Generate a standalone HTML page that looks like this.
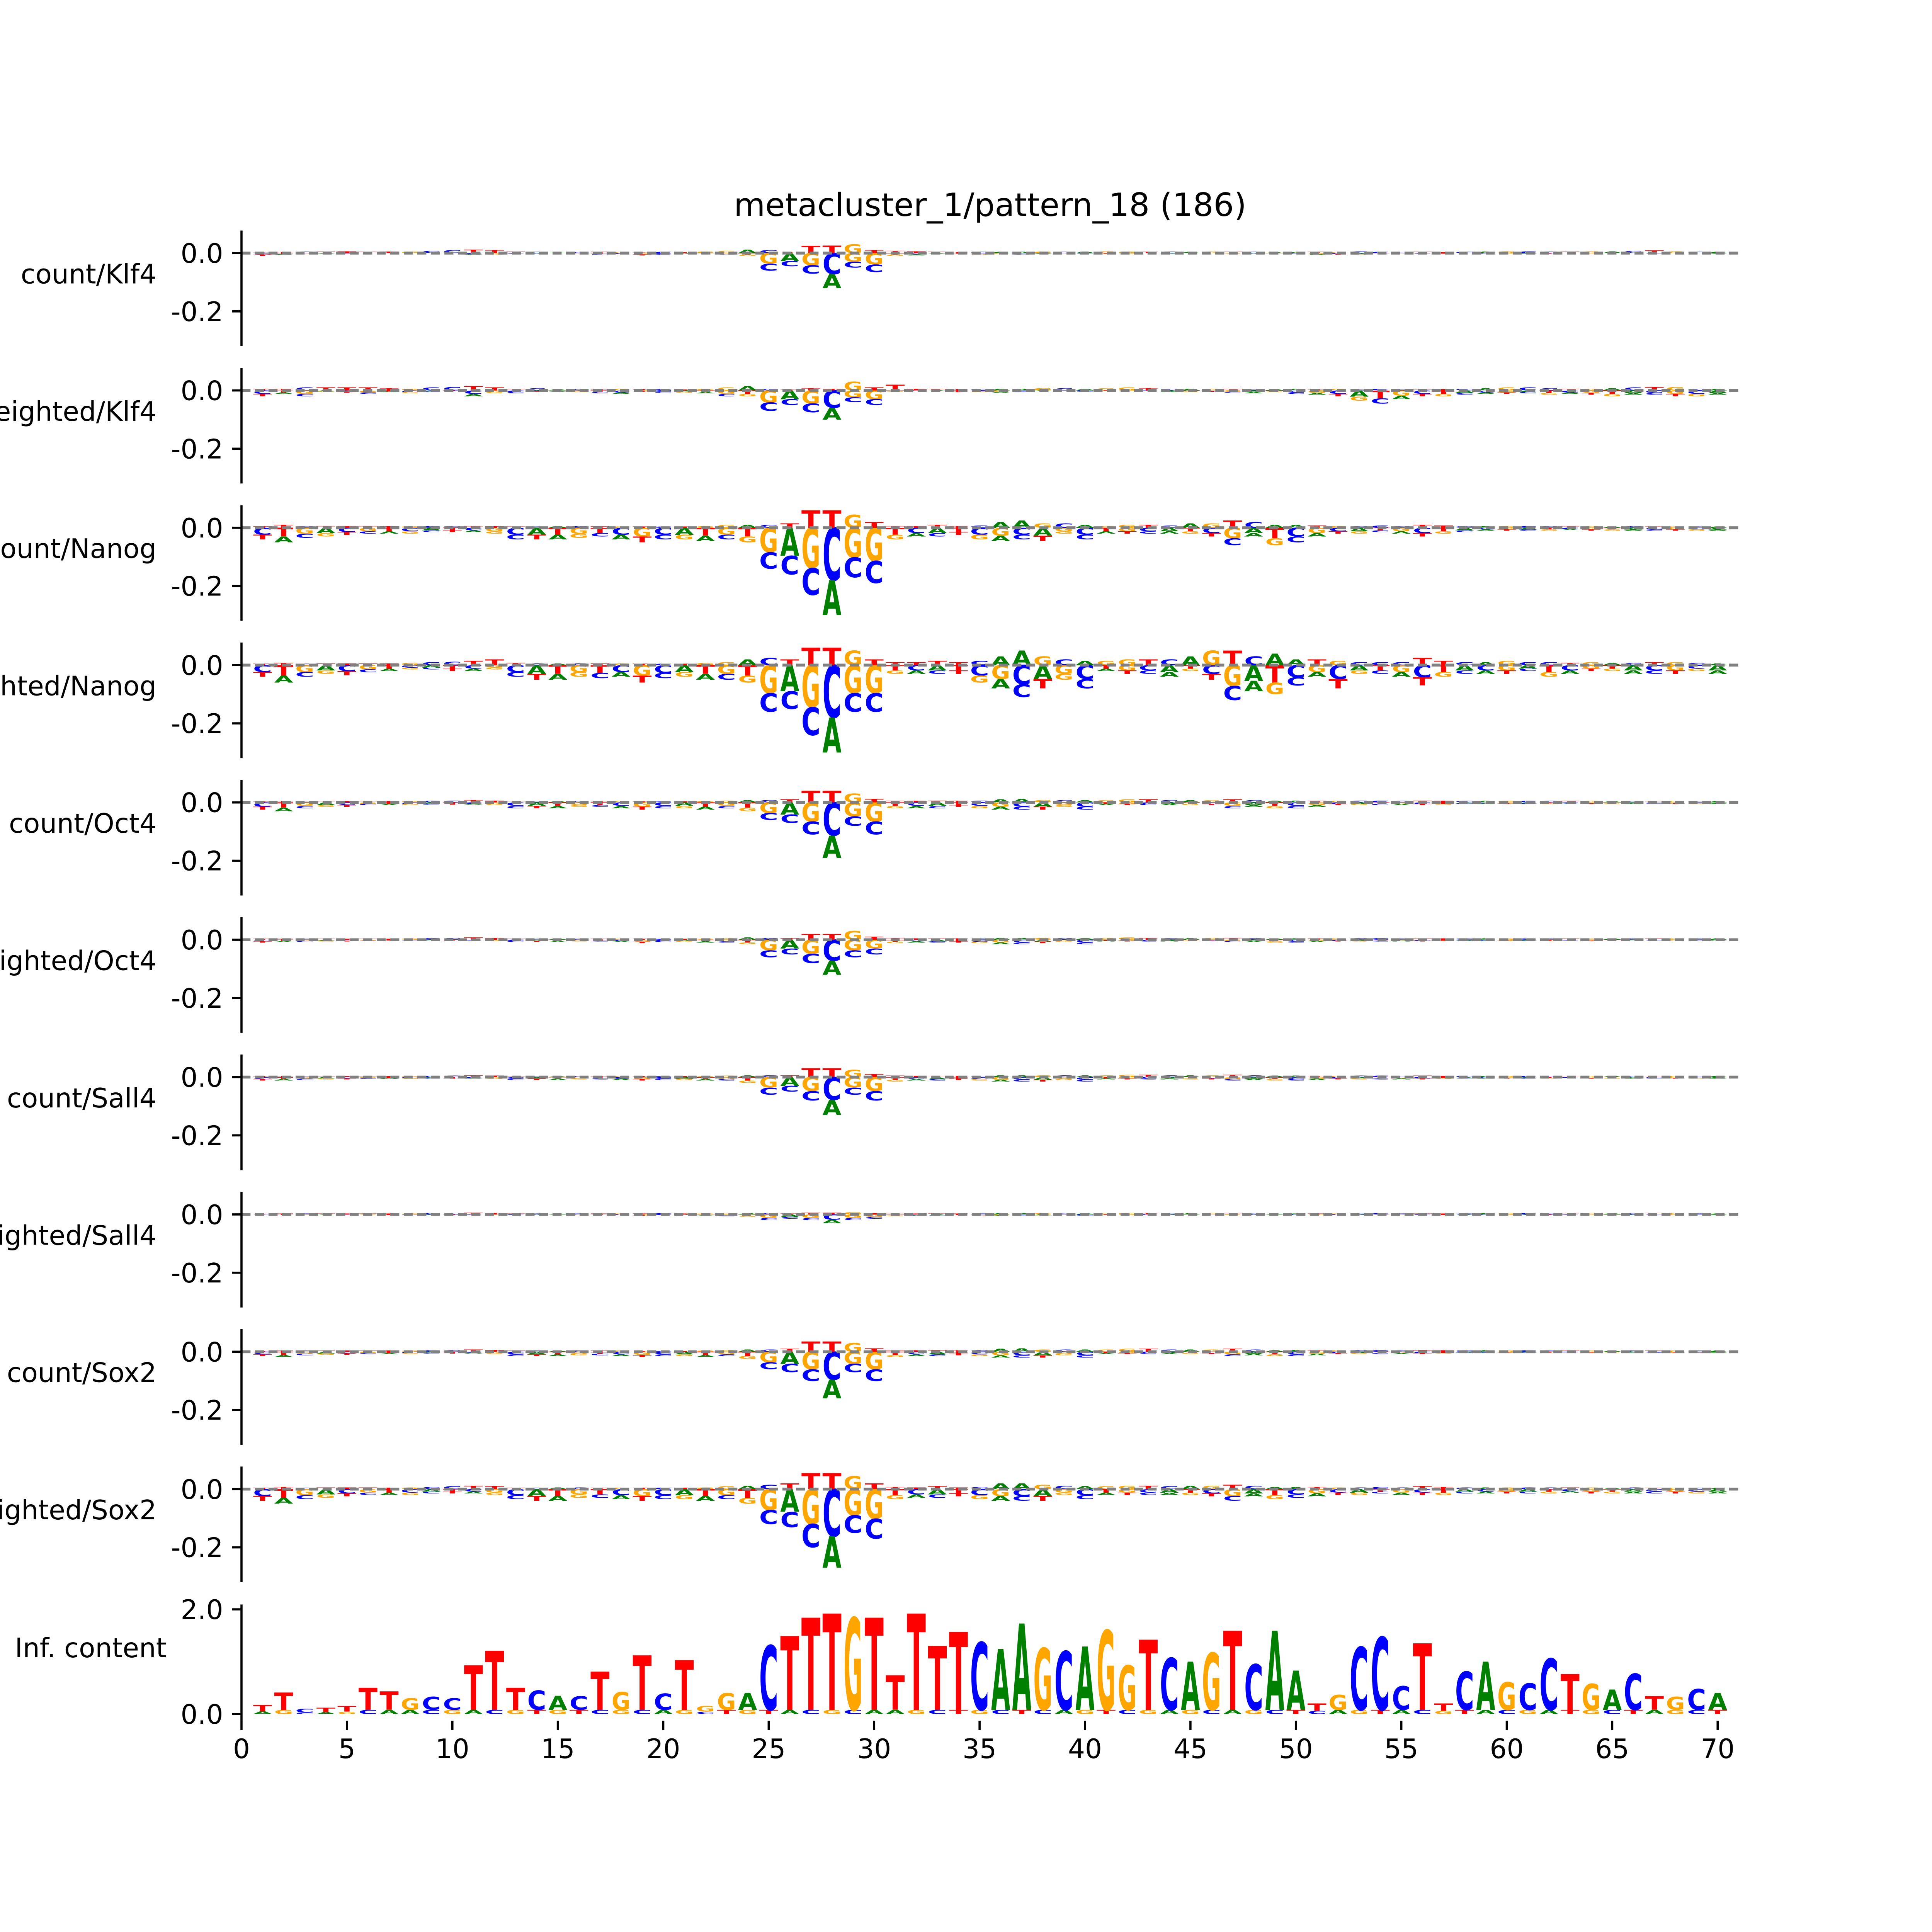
<!DOCTYPE html>
<html><head><meta charset="utf-8">
<style>
html,body{margin:0;padding:0;background:#fff;overflow:hidden;width:100%;height:100%;}
svg{display:block;width:100vw;height:100vh;}
text{font-family:"DejaVu Sans","Liberation Sans",sans-serif;}
</style></head>
<body>
<svg id="fig" xmlns="http://www.w3.org/2000/svg" viewBox="0 0 6000 6000" preserveAspectRatio="none">
<rect x="0" y="0" width="6000" height="6000" fill="#ffffff"/>
<text x="3075" y="671" font-size="100" text-anchor="middle" fill="#000">metacluster_1/pattern_18 (186)</text>
<g id="panels"></g>
</svg>
<script>
const panelNames=["count/Klf4","weighted/Klf4","count/Nanog","weighted/Nanog","count/Oct4","weighted/Oct4","count/Sall4","weighted/Sall4","count/Sox2","weighted/Sox2"];
const negTop="CTGACGTCATCGCATGTCGCATGT"+"GAGCGG"+"TCATCGCAGCTGCATCGATCGCATGCTACGATCGTACGCA";
const negBot="TACGTCAGCTAGCTAGCATCGACG"+"CCCACC"+"GACTGACTGCATCAGTCAGCATGCATGCATCGATGACTGA";
const consensus="TTCTTTTGCCTTTCACTGTCTGGACTTTGTTTTTCAAGCAGGTCAGTCAATGCCCTTCAGCCTGACTGCA";
const yTicks=["0.0","-0.2"];
const yTickVals=[0.0,-0.2];
const xTicks=[0,5,10,15,20,25,30,35,40,45,50,55,60,65,70];
const icTicks=[0.0,2.0];
const icTickLabels=["0.0","2.0"];
const icHeights=[0.17,0.41,0.1,0.12,0.15,0.5,0.43,0.3,0.33,0.3,0.93,1.21,0.5,0.45,0.35,0.34,0.81,0.42,1.12,0.39,1.03,0.15,0.4,0.4,1.31,1.49,1.84,1.92,1.84,1.84,0.74,1.92,1.3,1.57,1.37,1.24,1.73,1.26,1.2,1.29,1.6,0.93,1.42,1.07,1.0,1.17,1.59,0.95,1.59,0.83,0.2,0.37,1.28,1.47,0.53,1.35,0.2,0.81,1.0,0.61,0.59,1.06,0.76,0.58,0.47,0.77,0.34,0.33,0.48,0.4];
const icSecond="AGCAGCAACGACGTGTCGCAGCTGTACGCAAGCTGCTCAGTCGAGCAGCTCAGTACGTACGATGCTAGCT";

const neg_klf4_count=[0.01,0.005,0.003,0.003,0.004,0.002,0.002,0.002,0.002,0.002,0.005,0.005,0.003,0.003,0.002,0.003,0.006,0.004,0.008,0.005,0.004,0.003,0.005,0.01,0.06,0.045,0.07,0.12,0.05,0.065,0.01,0.008,0.003,0.003,0.005,0.004,0.005,0.004,0.003,0.003,0.003,0.003,0.002,0.003,0.002,0.002,0.003,0.003,0.004,0.003,0.006,0.006,0.005,0.004,0.003,0.003,0.003,0.002,0.003,0.003,0.004,0.003,0.002,0.003,0.002,0.002,0.003,0.002,0.002,0.003];
const pos_klf4_count=[0.002,0.003,0.005,0.005,0.006,0.004,0.005,0.005,0.008,0.01,0.012,0.01,0.005,0.004,0.002,0.003,0.004,0.003,0.002,0.004,0.003,0.005,0.008,0.012,0.01,0.003,0.025,0.026,0.03,0.01,0.008,0.006,0.004,0.003,0.004,0.004,0.004,0.005,0.004,0.005,0.006,0.005,0.004,0.005,0.004,0.005,0.004,0.004,0.003,0.003,0.004,0.003,0.006,0.004,0.003,0.004,0.003,0.004,0.005,0.006,0.006,0.005,0.005,0.006,0.006,0.008,0.009,0.006,0.004,0.004];
const neg_klf4_weighted=[0.02,0.012,0.02,0.005,0.008,0.012,0.006,0.01,0.006,0.004,0.02,0.01,0.01,0.005,0.005,0.006,0.01,0.012,0.005,0.008,0.008,0.01,0.02,0.02,0.07,0.05,0.075,0.1,0.04,0.05,0.005,0.004,0.004,0.006,0.006,0.008,0.006,0.004,0.004,0.005,0.004,0.004,0.003,0.006,0.006,0.005,0.008,0.01,0.006,0.012,0.015,0.02,0.035,0.045,0.03,0.02,0.02,0.015,0.012,0.012,0.01,0.015,0.012,0.015,0.02,0.015,0.015,0.02,0.02,0.015];
const pos_klf4_weighted=[0.005,0.006,0.01,0.01,0.01,0.01,0.008,0.006,0.01,0.012,0.015,0.01,0.005,0.008,0.004,0.004,0.004,0.006,0.004,0.004,0.003,0.005,0.01,0.015,0.006,0.003,0.008,0.006,0.03,0.01,0.02,0.006,0.006,0.004,0.005,0.006,0.006,0.008,0.008,0.006,0.008,0.01,0.008,0.006,0.006,0.005,0.006,0.004,0.004,0.005,0.004,0.006,0.004,0.006,0.004,0.004,0.004,0.006,0.008,0.01,0.01,0.008,0.006,0.006,0.008,0.01,0.012,0.012,0.006,0.006];
const neg_nanog_count=[0.04,0.05,0.035,0.03,0.025,0.02,0.02,0.02,0.015,0.015,0.015,0.02,0.04,0.04,0.04,0.035,0.03,0.04,0.05,0.04,0.04,0.045,0.04,0.05,0.14,0.16,0.23,0.30,0.17,0.19,0.04,0.03,0.03,0.025,0.04,0.045,0.04,0.045,0.02,0.04,0.02,0.02,0.02,0.02,0.02,0.03,0.06,0.03,0.06,0.05,0.03,0.02,0.02,0.015,0.02,0.03,0.02,0.015,0.01,0.01,0.01,0.01,0.008,0.01,0.01,0.01,0.01,0.01,0.01,0.01];
const pos_nanog_count=[0.005,0.01,0.006,0.006,0.006,0.006,0.005,0.005,0.006,0.006,0.006,0.005,0.004,0.004,0.006,0.006,0.005,0.004,0.004,0.004,0.004,0.006,0.01,0.01,0.01,0.015,0.06,0.06,0.045,0.02,0.006,0.006,0.01,0.006,0.008,0.02,0.025,0.015,0.015,0.01,0.006,0.01,0.01,0.008,0.015,0.015,0.025,0.02,0.01,0.01,0.008,0.006,0.006,0.008,0.006,0.01,0.008,0.006,0.006,0.006,0.006,0.006,0.006,0.006,0.004,0.006,0.004,0.004,0.004,0.004];
const neg_nanog_weighted=[0.04,0.06,0.04,0.03,0.035,0.025,0.02,0.015,0.015,0.02,0.02,0.015,0.04,0.05,0.05,0.04,0.045,0.04,0.06,0.045,0.04,0.05,0.05,0.06,0.16,0.15,0.24,0.30,0.16,0.16,0.03,0.03,0.03,0.03,0.06,0.08,0.11,0.08,0.05,0.08,0.02,0.03,0.03,0.04,0.02,0.05,0.12,0.09,0.1,0.07,0.04,0.08,0.03,0.03,0.04,0.07,0.04,0.03,0.03,0.03,0.02,0.04,0.03,0.02,0.02,0.03,0.03,0.03,0.02,0.03];
const pos_nanog_weighted=[0.005,0.008,0.005,0.006,0.006,0.006,0.006,0.008,0.01,0.012,0.015,0.02,0.008,0.006,0.006,0.006,0.006,0.006,0.005,0.005,0.005,0.008,0.01,0.02,0.025,0.02,0.06,0.06,0.05,0.02,0.01,0.01,0.015,0.01,0.015,0.03,0.05,0.03,0.02,0.015,0.015,0.02,0.02,0.02,0.03,0.05,0.05,0.03,0.04,0.02,0.02,0.015,0.01,0.01,0.01,0.025,0.015,0.01,0.01,0.015,0.01,0.01,0.008,0.01,0.008,0.008,0.01,0.01,0.008,0.006];
const neg_oct4_count=[0.025,0.03,0.02,0.015,0.015,0.01,0.01,0.01,0.008,0.008,0.008,0.01,0.02,0.02,0.02,0.015,0.015,0.02,0.025,0.02,0.02,0.025,0.02,0.03,0.06,0.07,0.11,0.19,0.08,0.11,0.02,0.02,0.02,0.015,0.02,0.025,0.025,0.025,0.015,0.025,0.01,0.01,0.01,0.01,0.01,0.01,0.02,0.015,0.02,0.02,0.015,0.01,0.01,0.01,0.01,0.01,0.008,0.006,0.006,0.006,0.006,0.006,0.005,0.006,0.006,0.006,0.006,0.006,0.006,0.006];
const pos_oct4_count=[0.003,0.004,0.004,0.004,0.004,0.004,0.004,0.004,0.005,0.006,0.008,0.006,0.004,0.004,0.004,0.004,0.004,0.004,0.003,0.003,0.003,0.004,0.006,0.008,0.008,0.01,0.04,0.04,0.03,0.012,0.005,0.005,0.006,0.005,0.006,0.01,0.012,0.008,0.008,0.008,0.008,0.01,0.01,0.008,0.008,0.008,0.01,0.008,0.006,0.006,0.005,0.005,0.006,0.006,0.005,0.006,0.005,0.005,0.005,0.005,0.005,0.005,0.005,0.005,0.004,0.004,0.004,0.004,0.004,0.004];
const neg_oct4_weighted=[0.01,0.008,0.008,0.006,0.006,0.005,0.004,0.004,0.004,0.004,0.004,0.005,0.008,0.008,0.008,0.006,0.006,0.008,0.012,0.008,0.008,0.01,0.01,0.015,0.06,0.05,0.08,0.12,0.06,0.05,0.012,0.01,0.01,0.01,0.012,0.015,0.015,0.012,0.008,0.015,0.006,0.006,0.006,0.006,0.005,0.005,0.008,0.008,0.01,0.01,0.008,0.006,0.006,0.006,0.006,0.006,0.005,0.005,0.005,0.005,0.005,0.005,0.004,0.005,0.004,0.004,0.004,0.004,0.004,0.004];
const pos_oct4_weighted=[0.003,0.003,0.003,0.003,0.003,0.003,0.003,0.004,0.005,0.006,0.008,0.006,0.003,0.003,0.003,0.003,0.003,0.003,0.003,0.003,0.003,0.003,0.005,0.008,0.006,0.005,0.02,0.02,0.03,0.01,0.006,0.004,0.004,0.004,0.004,0.006,0.006,0.006,0.006,0.006,0.006,0.008,0.006,0.005,0.005,0.006,0.006,0.005,0.004,0.004,0.004,0.004,0.005,0.005,0.004,0.004,0.004,0.004,0.004,0.004,0.004,0.004,0.004,0.004,0.004,0.004,0.004,0.004,0.004,0.004];
const neg_sall4_count=[0.012,0.012,0.01,0.008,0.008,0.006,0.006,0.006,0.005,0.005,0.005,0.006,0.01,0.01,0.01,0.008,0.008,0.01,0.012,0.01,0.01,0.012,0.012,0.02,0.06,0.05,0.08,0.13,0.06,0.08,0.015,0.012,0.012,0.01,0.012,0.015,0.015,0.015,0.01,0.015,0.008,0.008,0.008,0.008,0.008,0.008,0.012,0.01,0.012,0.012,0.01,0.008,0.008,0.008,0.008,0.008,0.006,0.005,0.005,0.005,0.005,0.005,0.004,0.005,0.005,0.005,0.005,0.005,0.005,0.005];
const pos_sall4_count=[0.003,0.003,0.003,0.003,0.003,0.003,0.003,0.003,0.004,0.005,0.006,0.005,0.003,0.003,0.003,0.003,0.003,0.003,0.003,0.003,0.003,0.003,0.005,0.006,0.006,0.006,0.03,0.03,0.025,0.01,0.005,0.004,0.004,0.004,0.004,0.006,0.006,0.006,0.006,0.006,0.006,0.008,0.008,0.006,0.006,0.006,0.008,0.006,0.005,0.005,0.004,0.004,0.005,0.005,0.004,0.005,0.004,0.004,0.004,0.004,0.004,0.004,0.004,0.004,0.004,0.004,0.004,0.004,0.004,0.004];
const neg_sall4_weighted=[0.004,0.004,0.003,0.003,0.003,0.003,0.003,0.003,0.003,0.003,0.003,0.003,0.004,0.004,0.004,0.004,0.003,0.004,0.005,0.004,0.004,0.005,0.006,0.008,0.02,0.015,0.02,0.03,0.02,0.015,0.006,0.005,0.005,0.004,0.005,0.005,0.005,0.005,0.004,0.005,0.004,0.004,0.004,0.004,0.004,0.004,0.004,0.004,0.004,0.004,0.004,0.004,0.004,0.004,0.004,0.004,0.004,0.004,0.003,0.003,0.003,0.003,0.003,0.003,0.003,0.003,0.003,0.003,0.003,0.003];
const pos_sall4_weighted=[0.002,0.003,0.003,0.003,0.003,0.003,0.003,0.003,0.004,0.005,0.006,0.005,0.003,0.003,0.003,0.003,0.003,0.003,0.003,0.004,0.003,0.003,0.004,0.005,0.004,0.003,0.006,0.006,0.008,0.004,0.004,0.003,0.003,0.003,0.003,0.004,0.004,0.004,0.004,0.004,0.004,0.005,0.004,0.004,0.004,0.004,0.004,0.004,0.003,0.003,0.003,0.003,0.004,0.004,0.003,0.003,0.003,0.003,0.004,0.004,0.004,0.004,0.004,0.004,0.004,0.004,0.005,0.004,0.003,0.003];
const neg_sox2_count=[0.015,0.018,0.012,0.01,0.01,0.008,0.008,0.008,0.006,0.006,0.006,0.008,0.015,0.015,0.015,0.012,0.012,0.015,0.018,0.015,0.015,0.018,0.015,0.025,0.06,0.07,0.1,0.16,0.07,0.1,0.018,0.015,0.015,0.012,0.015,0.02,0.02,0.02,0.012,0.02,0.008,0.008,0.008,0.008,0.008,0.008,0.015,0.012,0.015,0.015,0.012,0.008,0.008,0.008,0.008,0.008,0.006,0.005,0.005,0.005,0.005,0.005,0.004,0.005,0.005,0.005,0.005,0.005,0.005,0.005];
const pos_sox2_count=[0.003,0.004,0.004,0.004,0.004,0.004,0.004,0.004,0.005,0.006,0.008,0.006,0.004,0.004,0.004,0.004,0.004,0.004,0.003,0.003,0.003,0.004,0.006,0.008,0.008,0.01,0.035,0.035,0.03,0.012,0.005,0.005,0.006,0.005,0.006,0.01,0.012,0.008,0.008,0.008,0.008,0.01,0.01,0.008,0.008,0.008,0.01,0.008,0.006,0.006,0.005,0.005,0.006,0.006,0.005,0.006,0.005,0.005,0.005,0.005,0.005,0.005,0.005,0.005,0.004,0.004,0.004,0.004,0.004,0.004];
const neg_sox2_weighted=[0.04,0.05,0.035,0.03,0.025,0.02,0.02,0.02,0.015,0.015,0.015,0.02,0.035,0.04,0.04,0.03,0.03,0.035,0.04,0.035,0.035,0.04,0.035,0.05,0.12,0.13,0.2,0.27,0.15,0.17,0.035,0.03,0.03,0.025,0.035,0.04,0.04,0.04,0.02,0.035,0.02,0.02,0.02,0.02,0.02,0.025,0.04,0.025,0.035,0.03,0.025,0.02,0.02,0.015,0.02,0.02,0.02,0.015,0.015,0.015,0.015,0.015,0.012,0.015,0.015,0.015,0.015,0.015,0.015,0.015];
const pos_sox2_weighted=[0.005,0.008,0.005,0.006,0.006,0.006,0.005,0.006,0.008,0.01,0.012,0.01,0.005,0.005,0.006,0.006,0.005,0.005,0.005,0.005,0.005,0.006,0.01,0.012,0.015,0.02,0.055,0.055,0.045,0.02,0.008,0.006,0.01,0.006,0.008,0.02,0.02,0.015,0.012,0.01,0.01,0.012,0.012,0.01,0.012,0.012,0.015,0.012,0.008,0.008,0.008,0.006,0.006,0.008,0.006,0.01,0.008,0.006,0.006,0.006,0.006,0.006,0.006,0.006,0.004,0.006,0.004,0.004,0.004,0.004];

const negSeries=[neg_klf4_count,neg_klf4_weighted,neg_nanog_count,neg_nanog_weighted,neg_oct4_count,neg_oct4_weighted,neg_sall4_count,neg_sall4_weighted,neg_sox2_count,neg_sox2_weighted];
const posSeries=[pos_klf4_count,pos_klf4_weighted,pos_nanog_count,pos_nanog_weighted,pos_oct4_count,pos_oct4_weighted,pos_sall4_count,pos_sall4_weighted,pos_sox2_count,pos_sox2_weighted];

const NS="http://www.w3.org/2000/svg";
const COLORS={A:"#008000",C:"#0000ff",G:"#ffa500",T:"#ff0000"};
const ADV={A:0.774,C:0.734,G:0.821,T:0.682};
const X0=750, XU=65.49;
const PANEL_Y0=786, PANEL_STEP=426.5, YU=905;
const IC_Y0=5323, IC_U=162.5;
function xs(i){return X0+i*XU;}
const root=document.getElementById('panels');
function el(tag,attrs,parent){const e=document.createElementNS(NS,tag);for(const k in attrs)e.setAttribute(k,attrs[k]);(parent||root).appendChild(e);return e;}
function letter(ch,xc,yTop,yBot,w,parent){
  const h=yBot-yTop; if(h<1.5)return;
  const sx=w/(ADV[ch]*100), sy=h/72.9;
  const t=el('text',{x:0,y:0,'font-size':100,'font-weight':'bold','text-anchor':'middle',fill:COLORS[ch],transform:`translate(${xc},${yBot}) scale(${sx},${sy})`},parent);
  
  
  t.textContent=ch;
}
negSeries.forEach((neg,p)=>{
  const y0=PANEL_Y0+p*PANEL_STEP;
  const ys=v=>y0-v*YU;
  const g=el('g',{});
  
  
  const pos=posSeries[p];
  for(let i=0;i<neg.length;i++){
    const xc=xs(i+1), w=XU*0.9;
    const v=neg[i];
    const a=negTop[i]||'C', b=negBot[i]||'G';
    letter(a,xc,y0,y0+v*0.6*YU,w,g);
    letter(b,xc,y0+v*0.6*YU,y0+v*YU,w,g);
    const pv=pos[i], c=consensus[i]||'T';
    letter(c,xc,ys(pv),y0,w,g);
  }
  const zl=el('line',{x1:X0,x2:5400,y1:y0,y2:y0,stroke:'#808080','stroke-width':9,'stroke-dasharray':'28 14'},g);
  
  
  const sp=el('line',{x1:X0,x2:X0,y1:y0-70,y2:y0+289,stroke:'#000','stroke-width':6.7},g);
  
  
  yTickVals.forEach((tv,k)=>{
    const ty=ys(tv);
    const tk=el('line',{x1:X0-29,x2:X0,y1:ty,y2:ty,stroke:'#000','stroke-width':6.7},g);
    
    
    const tl=el('text',{x:X0-57,y:ty+30,'font-size':83,'text-anchor':'end',fill:'#000'},g);
    
    
    tl.textContent=yTicks[k];
  });
  const yl=el('text',{x:486,y:y0+94,'font-size':83,'text-anchor':'end',fill:'#000'},g);
  
  
  yl.textContent=panelNames[p];
});
(function(){
  const g=el('g',{});
  
  
  const ys=v=>IC_Y0-v*IC_U;
  for(let i=0;i<icHeights.length;i++){
    const xc=xs(i+1), w=XU*0.9;
    const h=icHeights[i];
    const base=Math.min(0.08,h*0.3);
    letter(icSecond[i]||'A',xc,ys(base),ys(0),w,g);
    letter(consensus[i]||'T',xc,ys(h),ys(base),w,g);
  }
  const sp=el('line',{x1:X0,x2:X0,y1:4983,y2:5344,stroke:'#000','stroke-width':6.7},g);
  
  
  icTicks.forEach((tv,k)=>{
    const ty=ys(tv);
    const tk=el('line',{x1:X0-29,x2:X0,y1:ty,y2:ty,stroke:'#000','stroke-width':6.7},g);
    
    
    const tl=el('text',{x:X0-57,y:ty+30,'font-size':83,'text-anchor':'end',fill:'#000'},g);
    
    
    tl.textContent=icTickLabels[k];
  });
  const yl=el('text',{x:517,y:5147,'font-size':83,'text-anchor':'end',fill:'#000'},g);
  
  
  yl.textContent='Inf. content';
  xTicks.forEach(t=>{
    const tk=el('line',{x1:xs(t),x2:xs(t),y1:5344,y2:5373,stroke:'#000','stroke-width':6.7},g);
    
    
    const tl=el('text',{x:xs(t),y:5460,'font-size':83,'text-anchor':'middle',fill:'#000'},g);
    
    
    tl.textContent=String(t);
  });
})();
</script>
</body></html>
